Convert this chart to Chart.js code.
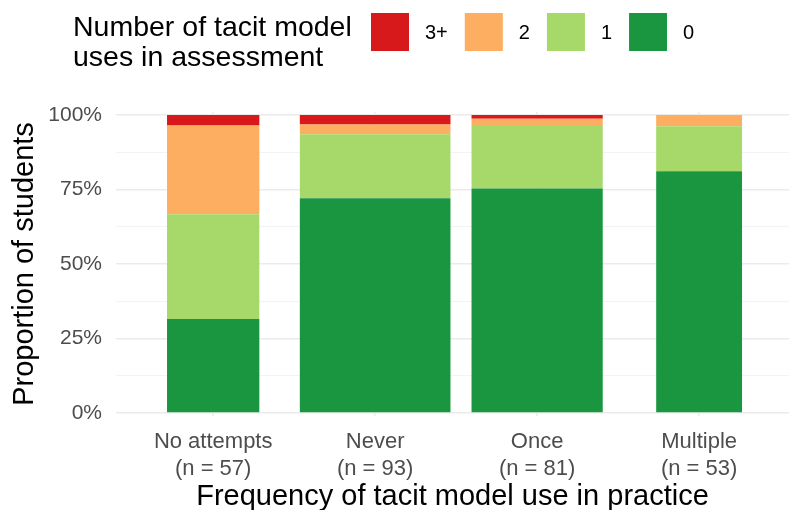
<!DOCTYPE html>
<html>
<head>
<meta charset="utf-8">
<script src="https://cdn.jsdelivr.net/npm/chart.js@4.4.1/dist/chart.umd.min.js"></script>
<style>
  html, body { margin: 0; padding: 0; background: #fff; }
  canvas { display: block; }
</style>
</head>
<body>
<canvas id="usesChart" width="789" height="510"></canvas>
<script>
// practice groups on the x axis and group sizes
const categories = ['No attempts', 'Never', 'Once', 'Multiple'];
const groupSizes = [57, 93, 81, 53];

// students per number of tacit model uses in the assessment
const levels = ['0', '1', '2', '3+'];
const usesZero = [18, 67, 61, 43];
const usesOne = [20, 20, 17, 8];
const usesTwo = [17, 3, 2, 2];
const usesThreePlus = [2, 3, 1, 0];
const levelColors = ['#1a9641', '#a6d96a', '#fdae61', '#d7191c'];

const yMajor = [0, 0.25, 0.5, 0.75, 1];
const yMinor = [0.125, 0.375, 0.625, 0.875];

const FONT = '"Liberation Sans", Arial, sans-serif';
const counts = [usesZero, usesOne, usesTwo, usesThreePlus];
const maxSize = Math.max(...groupSizes);

// one dataset per bar segment so every bar can get its own width (width ~ n)
const datasets = [];
levels.forEach((lvl, li) => {
  categories.forEach((cat, ci) => {
    datasets.push({
      label: lvl,
      data: [{ x: ci + 1, y: counts[li][ci] / groupSizes[ci] }],
      backgroundColor: levelColors[li],
      borderWidth: 0,
      barPercentage: 0.93 * groupSizes[ci] / maxSize,
      categoryPercentage: 1
    });
  });
});

// legend on top: title on the left, keys listed from 3+ down to 0
const topLegend = {
  id: 'topLegend',
  afterDraw(chart) {
    const ctx = chart.ctx;
    ctx.save();
    ctx.fillStyle = '#000';
    ctx.textBaseline = 'middle';
    ctx.textAlign = 'left';
    ctx.font = '28.5px ' + FONT;
    ctx.fillText('Number of tacit model', 73, 28);
    ctx.fillText('uses in assessment', 73, 58);

    ctx.font = '20px ' + FONT;
    let x = 371;
    for (let li = levels.length - 1; li >= 0; li--) {
      ctx.fillStyle = levelColors[li];
      ctx.fillRect(x, 13, 38, 38);
      ctx.fillStyle = '#000';
      ctx.fillText(levels[li], x + 54, 33);
      x += 38 + 16 + ctx.measureText(levels[li]).width + 17;
    }
    ctx.restore();
  }
};

const isMajor = v => yMajor.some(m => Math.abs(m - v) < 1e-9);

new Chart(document.getElementById('usesChart'), {
  type: 'bar',
  data: { datasets },
  plugins: [topLegend],
  options: {
    responsive: false,
    animation: false,
    layout: { padding: { top: 112, left: 0, right: 0, bottom: 0 } },
    plugins: {
      legend: { display: false },
      tooltip: { enabled: false }
    },
    scales: {
      x: {
        type: 'linear',
        stacked: true,
        offset: false,
        min: 0.4,
        max: 4.555,
        afterBuildTicks: axis => {
          axis.ticks = categories.map((c, i) => ({ value: i + 1 }));
        },
        afterFit: axis => { axis.height = 94; },
        border: { display: false },
        grid: { color: '#ebebeb', lineWidth: 1.5, drawTicks: false, offset: false },
        ticks: {
          padding: 13,
          color: '#4d4d4d',
          font: { family: FONT, size: 22, lineHeight: 1.22 },
          maxRotation: 0,
          autoSkip: false,
          callback: v => {
            const i = Math.round(v) - 1;
            return [categories[i], '(n = ' + groupSizes[i] + ')'];
          }
        },
        title: {
          display: true,
          text: 'Frequency of tacit model use in practice',
          color: '#000',
          font: { family: FONT, size: 29, lineHeight: 1 },
          padding: { top: 0, bottom: -1 }
        }
      },
      y: {
        stacked: true,
        min: -0.01,
        max: 1.01,
        afterBuildTicks: axis => {
          axis.ticks = yMajor.concat(yMinor).sort((a, b) => a - b).map(v => ({ value: v }));
        },
        afterFit: axis => { axis.width = 116; },
        border: { display: false },
        grid: {
          drawTicks: false,
          color: ctx => isMajor(ctx.tick.value) ? '#ebebeb' : '#f3f3f3',
          lineWidth: ctx => isMajor(ctx.tick.value) ? 1.5 : 1
        },
        ticks: {
          padding: 14,
          color: '#4d4d4d',
          font: { family: FONT, size: 21 },
          callback: v => isMajor(v) ? Math.round(v * 100) + '%' : ''
        },
        title: {
          display: true,
          text: 'Proportion of students',
          color: '#000',
          font: { family: FONT, size: 29, lineHeight: 1.2 },
          padding: { top: 8, bottom: 0 }
        }
      }
    }
  }
});
</script>
</body>
</html>
